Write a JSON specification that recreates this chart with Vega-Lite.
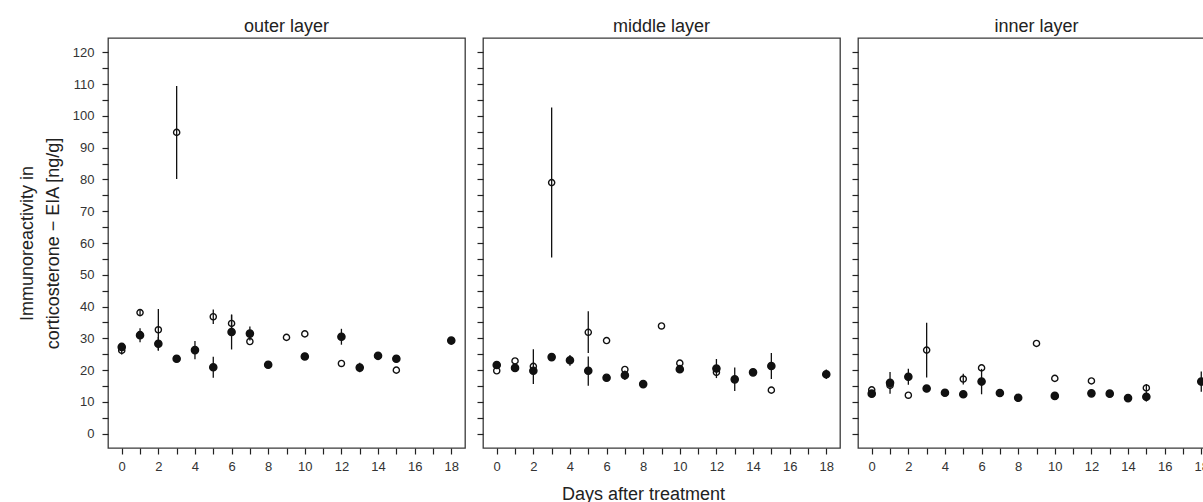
{
  "$schema": "https://vega.github.io/schema/vega-lite/v6.json",
  "background": "white",
  "padding": {"left": 17, "top": 17, "right": 5, "bottom": 3},
  "config": {
    "font": "Liberation Sans",
    "view": {"stroke": "#3a3a3a", "strokeWidth": 1.3},
    "axis": {
      "domain": false,
      "grid": false,
      "tickColor": "#222",
      "tickWidth": 1.2,
      "tickSize": 6,
      "labelColor": "#333",
      "labelFontSize": 13,
      "labelOverlap": false,
      "titleColor": "#222",
      "titleFontSize": 18,
      "titleFontWeight": "normal"
    },
    "title": {"fontSize": 18, "fontWeight": "normal", "color": "#222", "offset": 2}
  },
  "data": {
    "values": [
      {"layer": "outer", "group": "filled", "day": 0, "mean": 27.3, "lo": 26.3, "hi": 28.3},
      {"layer": "outer", "group": "filled", "day": 1, "mean": 31.0, "lo": 28.8, "hi": 33.2},
      {"layer": "outer", "group": "filled", "day": 2, "mean": 28.3, "lo": 26.2, "hi": 30.4},
      {"layer": "outer", "group": "filled", "day": 3, "mean": 23.6, "lo": 23.6, "hi": 23.6},
      {"layer": "outer", "group": "filled", "day": 4, "mean": 26.3, "lo": 23.4, "hi": 29.2},
      {"layer": "outer", "group": "filled", "day": 5, "mean": 20.9, "lo": 17.6, "hi": 24.2},
      {"layer": "outer", "group": "filled", "day": 6, "mean": 32.0, "lo": 26.5, "hi": 37.5},
      {"layer": "outer", "group": "filled", "day": 7, "mean": 31.5, "lo": 29.3, "hi": 33.7},
      {"layer": "outer", "group": "filled", "day": 8, "mean": 21.7, "lo": 21.7, "hi": 21.7},
      {"layer": "outer", "group": "filled", "day": 10, "mean": 24.3, "lo": 24.3, "hi": 24.3},
      {"layer": "outer", "group": "filled", "day": 12, "mean": 30.5, "lo": 28.0, "hi": 33.0},
      {"layer": "outer", "group": "filled", "day": 13, "mean": 20.8, "lo": 19.3, "hi": 22.3},
      {"layer": "outer", "group": "filled", "day": 14, "mean": 24.5, "lo": 24.5, "hi": 24.5},
      {"layer": "outer", "group": "filled", "day": 15, "mean": 23.6, "lo": 23.6, "hi": 23.6},
      {"layer": "outer", "group": "filled", "day": 18, "mean": 29.3, "lo": 29.3, "hi": 29.3},
      {"layer": "outer", "group": "open", "day": 0, "mean": 26.2, "lo": 24.9, "hi": 27.5},
      {"layer": "outer", "group": "open", "day": 1, "mean": 38.1, "lo": 37.1, "hi": 39.1},
      {"layer": "outer", "group": "open", "day": 2, "mean": 32.7, "lo": 26.2, "hi": 39.2},
      {"layer": "outer", "group": "open", "day": 3, "mean": 94.8, "lo": 80.1, "hi": 109.4},
      {"layer": "outer", "group": "open", "day": 5, "mean": 36.8, "lo": 34.5, "hi": 39.1},
      {"layer": "outer", "group": "open", "day": 6, "mean": 34.7, "lo": 32.0, "hi": 37.4},
      {"layer": "outer", "group": "open", "day": 7, "mean": 29.0, "lo": 29.0, "hi": 29.0},
      {"layer": "outer", "group": "open", "day": 9, "mean": 30.3, "lo": 30.3, "hi": 30.3},
      {"layer": "outer", "group": "open", "day": 10, "mean": 31.4, "lo": 31.4, "hi": 31.4},
      {"layer": "outer", "group": "open", "day": 12, "mean": 22.1, "lo": 22.1, "hi": 22.1},
      {"layer": "outer", "group": "open", "day": 15, "mean": 20.0, "lo": 20.0, "hi": 20.0},

      {"layer": "middle", "group": "filled", "day": 0, "mean": 21.6, "lo": 21.6, "hi": 21.6},
      {"layer": "middle", "group": "filled", "day": 1, "mean": 20.7, "lo": 19.7, "hi": 21.7},
      {"layer": "middle", "group": "filled", "day": 2, "mean": 19.8, "lo": 15.6, "hi": 26.6},
      {"layer": "middle", "group": "filled", "day": 3, "mean": 24.1, "lo": 24.1, "hi": 24.1},
      {"layer": "middle", "group": "filled", "day": 4, "mean": 23.1, "lo": 21.4, "hi": 24.8},
      {"layer": "middle", "group": "filled", "day": 5, "mean": 19.8, "lo": 15.1, "hi": 24.3},
      {"layer": "middle", "group": "filled", "day": 6, "mean": 17.6, "lo": 17.6, "hi": 17.6},
      {"layer": "middle", "group": "filled", "day": 7, "mean": 18.4, "lo": 16.9, "hi": 19.9},
      {"layer": "middle", "group": "filled", "day": 8, "mean": 15.6, "lo": 14.6, "hi": 16.6},
      {"layer": "middle", "group": "filled", "day": 10, "mean": 20.3, "lo": 19.3, "hi": 21.3},
      {"layer": "middle", "group": "filled", "day": 12, "mean": 20.5, "lo": 17.5, "hi": 23.5},
      {"layer": "middle", "group": "filled", "day": 13, "mean": 17.1, "lo": 13.4, "hi": 20.8},
      {"layer": "middle", "group": "filled", "day": 14, "mean": 19.3, "lo": 19.3, "hi": 19.3},
      {"layer": "middle", "group": "filled", "day": 15, "mean": 21.3, "lo": 17.2, "hi": 25.4},
      {"layer": "middle", "group": "filled", "day": 18, "mean": 18.7, "lo": 17.2, "hi": 20.2},
      {"layer": "middle", "group": "open", "day": 0, "mean": 19.8, "lo": 19.8, "hi": 19.8},
      {"layer": "middle", "group": "open", "day": 1, "mean": 22.9, "lo": 22.9, "hi": 22.9},
      {"layer": "middle", "group": "open", "day": 2, "mean": 21.2, "lo": 21.2, "hi": 21.2},
      {"layer": "middle", "group": "open", "day": 3, "mean": 79.0, "lo": 55.4, "hi": 102.6},
      {"layer": "middle", "group": "open", "day": 5, "mean": 31.9, "lo": 25.4, "hi": 38.5},
      {"layer": "middle", "group": "open", "day": 6, "mean": 29.3, "lo": 29.3, "hi": 29.3},
      {"layer": "middle", "group": "open", "day": 7, "mean": 20.2, "lo": 20.2, "hi": 20.2},
      {"layer": "middle", "group": "open", "day": 9, "mean": 33.9, "lo": 33.9, "hi": 33.9},
      {"layer": "middle", "group": "open", "day": 10, "mean": 22.2, "lo": 22.2, "hi": 22.2},
      {"layer": "middle", "group": "open", "day": 12, "mean": 19.3, "lo": 19.3, "hi": 19.3},
      {"layer": "middle", "group": "open", "day": 15, "mean": 13.7, "lo": 13.7, "hi": 13.7},

      {"layer": "inner", "group": "filled", "day": 0, "mean": 12.6, "lo": 12.6, "hi": 12.6},
      {"layer": "inner", "group": "filled", "day": 1, "mean": 16.0, "lo": 12.6, "hi": 19.4},
      {"layer": "inner", "group": "filled", "day": 2, "mean": 17.9, "lo": 15.4, "hi": 20.4},
      {"layer": "inner", "group": "filled", "day": 3, "mean": 14.2, "lo": 14.2, "hi": 14.2},
      {"layer": "inner", "group": "filled", "day": 4, "mean": 12.9, "lo": 12.9, "hi": 12.9},
      {"layer": "inner", "group": "filled", "day": 5, "mean": 12.4, "lo": 12.4, "hi": 12.4},
      {"layer": "inner", "group": "filled", "day": 6, "mean": 16.4, "lo": 12.4, "hi": 20.4},
      {"layer": "inner", "group": "filled", "day": 7, "mean": 12.8, "lo": 11.8, "hi": 13.8},
      {"layer": "inner", "group": "filled", "day": 8, "mean": 11.3, "lo": 11.3, "hi": 11.3},
      {"layer": "inner", "group": "filled", "day": 10, "mean": 11.9, "lo": 11.9, "hi": 11.9},
      {"layer": "inner", "group": "filled", "day": 12, "mean": 12.7, "lo": 11.7, "hi": 13.7},
      {"layer": "inner", "group": "filled", "day": 13, "mean": 12.6, "lo": 12.6, "hi": 12.6},
      {"layer": "inner", "group": "filled", "day": 14, "mean": 11.2, "lo": 11.2, "hi": 11.2},
      {"layer": "inner", "group": "filled", "day": 15, "mean": 11.6, "lo": 10.1, "hi": 13.1},
      {"layer": "inner", "group": "filled", "day": 18, "mean": 16.4, "lo": 13.2, "hi": 19.6},
      {"layer": "inner", "group": "open", "day": 0, "mean": 13.8, "lo": 13.8, "hi": 13.8},
      {"layer": "inner", "group": "open", "day": 1, "mean": 15.2, "lo": 15.2, "hi": 15.2},
      {"layer": "inner", "group": "open", "day": 2, "mean": 12.1, "lo": 12.1, "hi": 12.1},
      {"layer": "inner", "group": "open", "day": 3, "mean": 26.3, "lo": 17.7, "hi": 34.9},
      {"layer": "inner", "group": "open", "day": 5, "mean": 17.2, "lo": 15.5, "hi": 18.9},
      {"layer": "inner", "group": "open", "day": 6, "mean": 20.7, "lo": 20.7, "hi": 20.7},
      {"layer": "inner", "group": "open", "day": 9, "mean": 28.4, "lo": 28.4, "hi": 28.4},
      {"layer": "inner", "group": "open", "day": 10, "mean": 17.4, "lo": 17.4, "hi": 17.4},
      {"layer": "inner", "group": "open", "day": 12, "mean": 16.6, "lo": 16.6, "hi": 16.6},
      {"layer": "inner", "group": "open", "day": 15, "mean": 14.4, "lo": 13.2, "hi": 15.6}
    ]
  },
  "spacing": 9,
  "hconcat": [
    {
      "title": "outer layer",
      "width": 357,
      "height": 410,
      "transform": [{"filter": "datum.layer === 'outer'"}],
      "encoding": {
        "x": {"field": "day", "type": "quantitative", "scale": {"domain": [-0.75, 18.75], "nice": false, "zero": false},
              "axis": {"values": [0,1,2,3,4,5,6,7,8,9,10,11,12,13,14,15,16,17,18], "labelExpr": "datum.value % 2 === 0 ? datum.label : ''", "labelOverlap": false, "labelPadding": 6, "title": null}}
      },
      "layer": [
        {"mark": {"type": "rule", "color": "#111", "strokeWidth": 1.3},
         "encoding": {
           "y": {"field": "lo", "type": "quantitative", "scale": {"domain": [-4.5, 124.5], "nice": false, "zero": false},
                 "axis": {"values": [0,5,10,15,20,25,30,35,40,45,50,55,60,65,70,75,80,85,90,95,100,105,110,115,120], "labelExpr": "datum.value % 10 === 0 ? datum.label : ''", "labelOverlap": false, "labelPadding": 8,
                          "title": ["Immunoreactivity in", "corticosterone − EIA [ng/g]"], "titleLineHeight": 26, "titlePadding": 10}},
           "y2": {"field": "hi"}
         }},
        {"mark": {"type": "circle", "opacity": 1, "stroke": "#111", "strokeWidth": 1.4},
         "encoding": {
           "y": {"field": "mean", "type": "quantitative", "scale": {"domain": [-4.5, 124.5], "nice": false, "zero": false},
                 "axis": {"values": [0,5,10,15,20,25,30,35,40,45,50,55,60,65,70,75,80,85,90,95,100,105,110,115,120], "labelExpr": "datum.value % 10 === 0 ? datum.label : ''", "labelOverlap": false, "labelPadding": 8,
                          "title": ["Immunoreactivity in", "corticosterone − EIA [ng/g]"], "titleLineHeight": 26, "titlePadding": 10}},
           "fill": {"field": "group", "type": "nominal", "scale": {"domain": ["filled", "open"], "range": ["#111", "transparent"]}, "legend": null},
           "size": {"field": "group", "type": "nominal", "scale": {"domain": ["filled", "open"], "range": [52, 38]}, "legend": null}
         }}
      ]
    },
    {
      "title": "middle layer",
      "width": 357,
      "height": 410,
      "transform": [{"filter": "datum.layer === 'middle'"}],
      "encoding": {
        "x": {"field": "day", "type": "quantitative", "scale": {"domain": [-0.75, 18.75], "nice": false, "zero": false},
              "axis": {"values": [0,1,2,3,4,5,6,7,8,9,10,11,12,13,14,15,16,17,18], "labelExpr": "datum.value % 2 === 0 ? datum.label : ''", "labelOverlap": false, "labelPadding": 6, "title": "Days after treatment", "titlePadding": 12, "titleX": 160}}
      },
      "layer": [
        {"mark": {"type": "rule", "color": "#111", "strokeWidth": 1.3},
         "encoding": {
           "y": {"field": "lo", "type": "quantitative", "scale": {"domain": [-4.5, 124.5], "nice": false, "zero": false},
                 "axis": {"values": [0,5,10,15,20,25,30,35,40,45,50,55,60,65,70,75,80,85,90,95,100,105,110,115,120], "labels": false, "title": null}},
           "y2": {"field": "hi"}
         }},
        {"mark": {"type": "circle", "opacity": 1, "stroke": "#111", "strokeWidth": 1.4},
         "encoding": {
           "y": {"field": "mean", "type": "quantitative", "scale": {"domain": [-4.5, 124.5], "nice": false, "zero": false},
                 "axis": {"values": [0,5,10,15,20,25,30,35,40,45,50,55,60,65,70,75,80,85,90,95,100,105,110,115,120], "labels": false, "title": null}},
           "fill": {"field": "group", "type": "nominal", "scale": {"domain": ["filled", "open"], "range": ["#111", "transparent"]}, "legend": null},
           "size": {"field": "group", "type": "nominal", "scale": {"domain": ["filled", "open"], "range": [52, 38]}, "legend": null}
         }}
      ]
    },
    {
      "title": "inner layer",
      "width": 357,
      "height": 410,
      "transform": [{"filter": "datum.layer === 'inner'"}],
      "encoding": {
        "x": {"field": "day", "type": "quantitative", "scale": {"domain": [-0.75, 18.75], "nice": false, "zero": false},
              "axis": {"values": [0,1,2,3,4,5,6,7,8,9,10,11,12,13,14,15,16,17,18], "labelExpr": "datum.value % 2 === 0 ? datum.label : ''", "labelOverlap": false, "labelPadding": 6, "title": null}}
      },
      "layer": [
        {"mark": {"type": "rule", "color": "#111", "strokeWidth": 1.3},
         "encoding": {
           "y": {"field": "lo", "type": "quantitative", "scale": {"domain": [-4.5, 124.5], "nice": false, "zero": false},
                 "axis": {"values": [0,5,10,15,20,25,30,35,40,45,50,55,60,65,70,75,80,85,90,95,100,105,110,115,120], "labels": false, "title": null}},
           "y2": {"field": "hi"}
         }},
        {"mark": {"type": "circle", "opacity": 1, "stroke": "#111", "strokeWidth": 1.4},
         "encoding": {
           "y": {"field": "mean", "type": "quantitative", "scale": {"domain": [-4.5, 124.5], "nice": false, "zero": false},
                 "axis": {"values": [0,5,10,15,20,25,30,35,40,45,50,55,60,65,70,75,80,85,90,95,100,105,110,115,120], "labels": false, "title": null}},
           "fill": {"field": "group", "type": "nominal", "scale": {"domain": ["filled", "open"], "range": ["#111", "transparent"]}, "legend": null},
           "size": {"field": "group", "type": "nominal", "scale": {"domain": ["filled", "open"], "range": [52, 38]}, "legend": null}
         }}
      ]
    }
  ]
}
